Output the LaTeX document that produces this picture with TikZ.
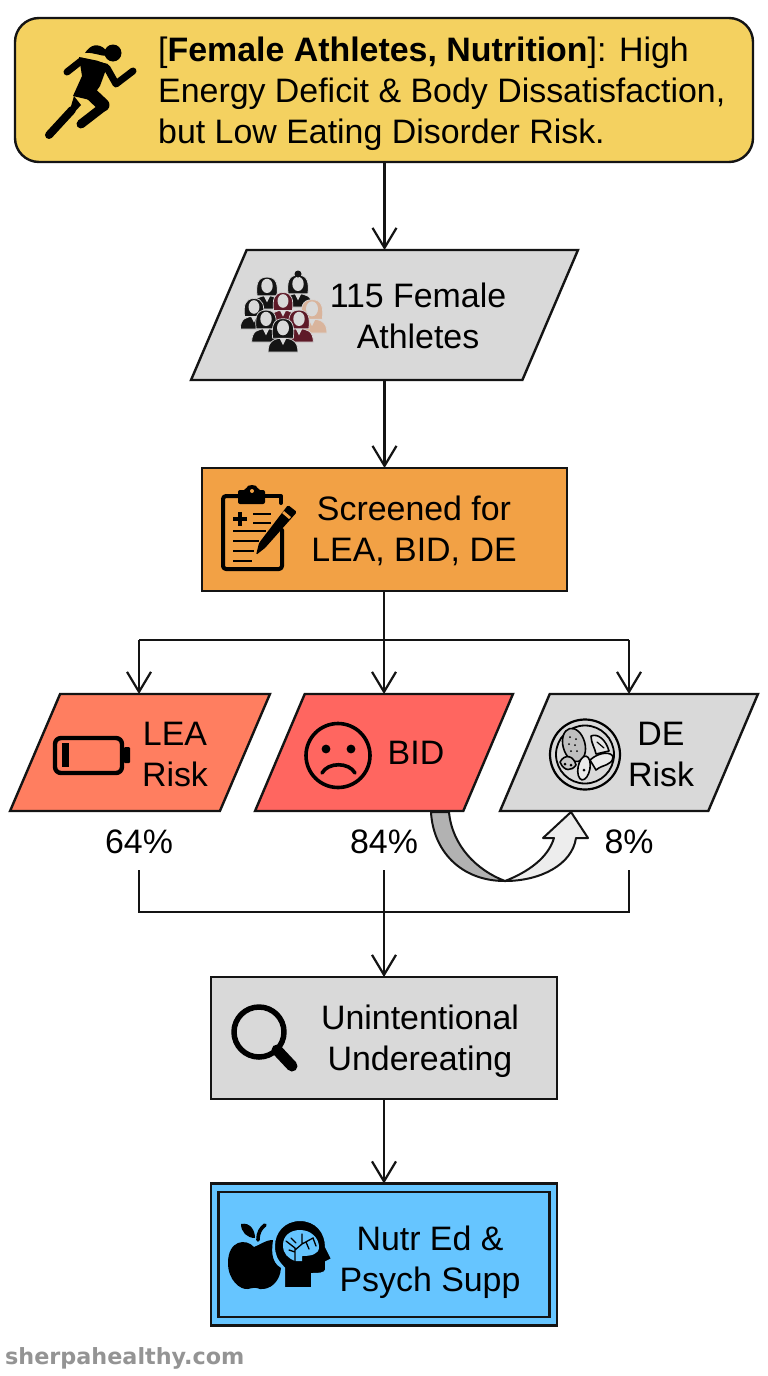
\documentclass[tikz,border=0pt]{standalone}
\usepackage{fontspec}
\setmainfont{Liberation Sans}
\newfontfamily\wmfont{DejaVu Sans}
\usetikzlibrary{arrows.meta,shapes.geometric}
\definecolor{ink}{HTML}{141414}
\definecolor{yelbox}{HTML}{F4D160}
\definecolor{graybox}{HTML}{D9D9D9}
\definecolor{orgbox}{HTML}{F2A145}
\definecolor{leabox}{HTML}{FF7E60}
\definecolor{bidbox}{HTML}{FF6660}
\definecolor{blubox}{HTML}{66C5FF}
\definecolor{maroon}{HTML}{5E1A28}
\definecolor{tanp}{HTML}{D9B49C}
\tikzset{
  boxbase/.style={draw=ink,line width=2.4pt,inner sep=0pt,outer sep=0pt},
  slant/.style={boxbase,inner sep=2pt,trapezium,trapezium stretches=true},
  slantwide/.style={slant,trapezium left angle=78.6,trapezium right angle=101.4},
  slantshort/.style={slant,trapezium left angle=72.6,trapezium right angle=107.4},
  lab/.style={font=\fontsize{33.9}{41}\selectfont,align=center,text=black,inner sep=0pt},
  conn/.style={draw=ink,line width=2.2pt},
  arr/.style={conn,-{Straight Barb[length=20pt,width=24pt,line width=2.2pt]}},
  ico/.style={draw=black,line cap=round,line join=round},
}
\newcommand\persona[4]{%
  \begin{scope}[shift={(#1,#2)},scale=#3]
    \fill[#4,draw=graybox,line width=.7pt] (-13,20) .. controls (-13,10) and (-7,8) .. (0,8) .. controls (7,8) and (13,10) .. (13,20) -- cycle;
    \fill[#4,draw=graybox,line width=.7pt] (0,-9) .. controls (-9,-9) and (-10,-2) .. (-9,8) -- (9,8) .. controls (10,-2) and (9,-9) .. (0,-9) -- cycle;
    \fill[graybox] (0,-1) ellipse (5.2 and 6.5);
    \fill[graybox] (-3,8) -- (3,8) -- (0,14) -- cycle;
  \end{scope}}
\begin{document}
\begin{tikzpicture}[x=1pt,y=-1pt]
\useasboundingbox (0,0) rectangle (768,1376);
\fill[white] (0,0) rectangle (768,1376);

% boxes
\node[boxbase,fill=yelbox,rounded corners=24pt,minimum width=738pt,minimum height=144pt] (top) at (384,90) {};
\node[slantwide,fill=graybox,minimum width=387pt,minimum height=130pt] (ath) at (384.5,315) {};
\node[boxbase,fill=orgbox,minimum width=365pt,minimum height=123pt] (scr) at (384.5,529.5) {};
\node[slantshort,fill=leabox,minimum width=260pt,minimum height=117pt] (lea) at (140,752.5) {};
\node[slantshort,fill=bidbox,minimum width=258pt,minimum height=117pt] (bid) at (384,752.5) {};
\node[slantshort,fill=graybox,minimum width=258pt,minimum height=117pt] (der) at (629,752.5) {};
\node[boxbase,fill=graybox,minimum width=346pt,minimum height=122pt] (und) at (384,1038) {};
\node[boxbase,fill=blubox,minimum width=346pt,minimum height=142pt] (nut) at (384,1254.5) {};
\node[boxbase,minimum width=331pt,minimum height=125pt] (nutin) at (384,1254.5) {};

% labels
\node[lab,align=left,anchor=west] (toptxt) at (158,93.5) {[\textbf{Female Athletes, Nutrition}]: High\\Energy Deficit \& Body Dissatisfaction,\\but Low Eating Disorder Risk.};
\node[lab] (athtxt) at (418,316) {115 Female\\Athletes};
\node[lab] (scrtxt) at (414,531) {Screened for\\LEA, BID, DE};
\node[lab] (leatxt) at (175,754) {LEA\\Risk};
\node[lab] (bidtxt) at (416,752.5) {BID};
\node[lab] (dertxt) at (661,754) {DE\\Risk};
\node[lab] (undtxt) at (420,1041) {Unintentional\\Undereating};
\node[lab] (nuttxt) at (430,1262.5) {Nutr Ed \&\\Psych Supp};
\node[lab] (p64) at (139,842) {64\%};
\node[lab] (p84) at (384,842) {84\%};
\node[lab] (p8) at (629,842) {8\%};
\node[anchor=west,inner sep=0pt,text=black!42,font=\wmfont\bfseries\fontsize{22.3}{26}\selectfont] (wm) at (5,1358.5) {sherpahealthy.com};

% connectors
\coordinate (busc) at (384,640);
\coordinate (busl) at (139,640);
\coordinate (busr) at (629,640);
\coordinate (s64) at (139,870);
\coordinate (s84) at (384,870);
\coordinate (s8) at (629,870);
\coordinate (m64) at (139,912);
\coordinate (m84) at (384,912);
\coordinate (m8) at (629,912);
\draw[arr] (top.south -| ath.north) -- (ath.north);
\draw[arr] (ath.south) -- (scr.north -| ath.south);
\draw[conn] (scr.south -| busc) -- (busc);
\draw[conn] (busl) -- (busr);
\draw[arr] (busl) -- (busl |- lea.north);
\draw[arr] (busc) -- (busc |- bid.north);
\draw[arr] (busr) -- (busr |- der.north);
\draw[conn] (s64) -- (m64) -- (m8) -- (s8);
\draw[conn] (s84) -- (m84);
\draw[arr] (m84) -- (m84 |- und.north);
\draw[arr] (und.south) -- (nut.north);

% curved arrow
\draw[draw=ink,line width=2pt,line join=round,fill=black!30]
  (431,812) .. controls (433,850) and (460,881) .. (505,881)
  .. controls (476,870) and (452,845) .. (449,812) -- cycle;
\draw[draw=ink,line width=2pt,line join=round,fill=black!7]
  (505,881) .. controls (540,881) and (572,865) .. (576,838) -- (588,838) -- (571,812) -- (543,838) -- (554,838)
  .. controls (548,858) and (528,872) .. (505,881) -- cycle;

% runner
\begin{scope}
\fill[black] (113,53) circle (8.5);
\fill[black] (106,50) .. controls (98,42) and (90,45) .. (85,53) .. controls (93,52) and (100,56) .. (107,56) -- cycle;
\draw[ico,line width=7pt] (67,72) -- (81,61) -- (96,64) -- (107,68) -- (116,84) -- (133,71);
\fill[black] (79,57) -- (108,64) -- (100,86) -- (90,100) -- (73,96) -- (82,76) -- cycle;
\draw[ico,line width=13pt] (85,88) -- (103,105);
\draw[ico,line width=9pt] (103,107) -- (81,124);
\draw[ico,line width=8pt] (49,135) -- (72,110);
\fill[black] (69,113) -- (46,136) -- (51,138) -- (81,105) -- (74,96) -- cycle;
\end{scope}

% group
\persona{267}{287}{1.1}{ink}
\persona{298}{285}{1.1}{ink}
\fill[ink] (298,274) circle (3.5);
\persona{254}{308}{1.05}{ink}
\persona{312}{310}{1.15}{tanp}
\persona{283}{302}{1.05}{maroon}
\persona{266}{320}{1.1}{ink}
\persona{299}{320}{1.1}{maroon}
\persona{283}{329}{1.15}{ink}

% clipboard
\draw[ico,line width=4pt,rounded corners=3pt] (238,496) -- (223,496) -- (223,569) -- (282,569) -- (282,530);
\draw[ico,line width=4pt] (265,496) -- (281,496) -- (281,503);
\fill[black,rounded corners=2pt] (238,497) -- (238,490) -- (246,490) .. controls (247,484) and (257,484) .. (258,490) -- (265,490) -- (265,504) -- (238,504) -- cycle;
\fill[orgbox] (252,491) circle (2);
\draw[ico,line width=4.4pt,line cap=butt] (233,519) -- (247,519) (240,512) -- (240,526);
\draw[ico,line width=2.8pt,line cap=butt] (253,514) -- (271,514) (253,523) -- (271,523) (233,531) -- (266,531) (233,541) -- (259,541) (233,551) -- (254,551) (233,561) -- (252,561);
\fill[black,rounded corners=1.5pt] (288,505) -- (297,512) -- (265,548) -- (256,555) -- (259,543) -- cycle;
\fill[orgbox] (284,511) -- (291,517) -- (289,519) -- (282,513) -- cycle;

% battery
\draw[ico,line width=4.4pt,rounded corners=6pt] (55,738) rectangle (122,773);
\fill[black,rounded corners=1pt] (124,747) rectangle (130,763);
\fill[black] (62,743) rectangle (69,767);

% sad face
\draw[ico,line width=3.6pt] (338,755.5) circle (32);
\fill[black] (326,749) circle (4.4);
\fill[black] (351,749) circle (4.4);
\draw[ico,line width=3.6pt] (322,773) .. controls (328,762) and (349,762) .. (355,773);

% plate
\draw[ico,line width=2.2pt,fill=graybox] (585,754.5) circle (35);
\draw[ico,line width=1.8pt] (585,754.5) circle (29);
\draw[ico,line width=1.6pt,fill=black!25,rotate around={15:(574,745)}] (574,745) ellipse (11 and 17);
\foreach \dx/\dy in {-4/-8,2/-6,-5/-1,1/0,-3/6,3/6}{\fill[black] (574+\dx,745+\dy) circle (1);}
\draw[ico,line width=1.6pt,fill=black!10] (591,736) .. controls (598,733) and (606,740) .. (609,751) -- (596,754) .. controls (595,748) and (591,743) .. (591,736) -- cycle;
\draw[ico,line width=1.2pt] (597,742) -- (604,748);
\draw[ico,line width=1.6pt,fill=black!8] (590,760) .. controls (600,751) and (612,752) .. (613,757) .. controls (612,766) and (603,764) .. (596,770) -- cycle;
\draw[ico,line width=1.6pt,fill=black!22] (560,762) .. controls (565,753) and (574,756) .. (576,765) .. controls (572,771) and (564,772) .. (560,762) -- cycle;
\fill[black] (565,764) circle (1.5) (571,765) circle (1.5);
\draw[ico,line width=1.6pt,fill=black!8,rotate around={-10:(584,768)}] (584,768) ellipse (6 and 12);
\fill[black] (584,770) circle (1.5);

% magnifier
\draw[ico,line width=5.5pt] (259,1032) circle (25);
\draw[ico,line width=11pt] (277,1050) -- (292,1066);

% apple + head
\fill[black] (254,1247) .. controls (246,1238) and (228,1240) .. (228,1263) .. controls (228,1280) and (240,1290) .. (248,1289) .. controls (252,1288) and (256,1287) .. (260,1289) .. controls (270,1290) and (280,1282) .. (281,1268) .. controls (270,1262) and (272,1248) .. (273,1240) .. controls (265,1240) and (260,1245) .. (254,1247) -- cycle;
\fill[black] (241,1224) .. controls (250,1222) and (255,1230) .. (255,1238) .. controls (247,1238) and (241,1232) .. (241,1224) -- cycle;
\draw[ico,line width=3.6pt] (258,1240) .. controls (258,1232) and (261,1228) .. (265,1225);
\filldraw[fill=black,draw=blubox,line width=2pt] (300,1220) .. controls (316,1220) and (326,1232) .. (326,1247) -- (332,1259) -- (326,1262) -- (326,1270) .. controls (325,1274) and (318,1274) .. (312,1274) -- (312,1288) -- (284,1288) -- (284,1268) .. controls (276,1260) and (274,1254) .. (274,1246) .. controls (274,1232) and (284,1220) .. (300,1220) -- cycle;
\fill[blubox] (300,1230) .. controls (311,1230) and (319,1238) .. (319,1247) .. controls (319,1254) and (312,1256) .. (302,1256) -- (302,1261) -- (295,1261) .. controls (288,1258) and (283,1254) .. (283,1245) .. controls (283,1236) and (290,1230) .. (300,1230) -- cycle;
\draw[black,line width=1.3pt,line cap=round] (295,1262) -- (295,1248) -- (286,1241) (295,1250) -- (302,1244) -- (302,1234) (302,1244) -- (313,1238) -- (316,1246) (289,1250) -- (295,1252) (291,1238) -- (296,1243) (306,1242) -- (309,1249);
\end{tikzpicture}
\end{document}
